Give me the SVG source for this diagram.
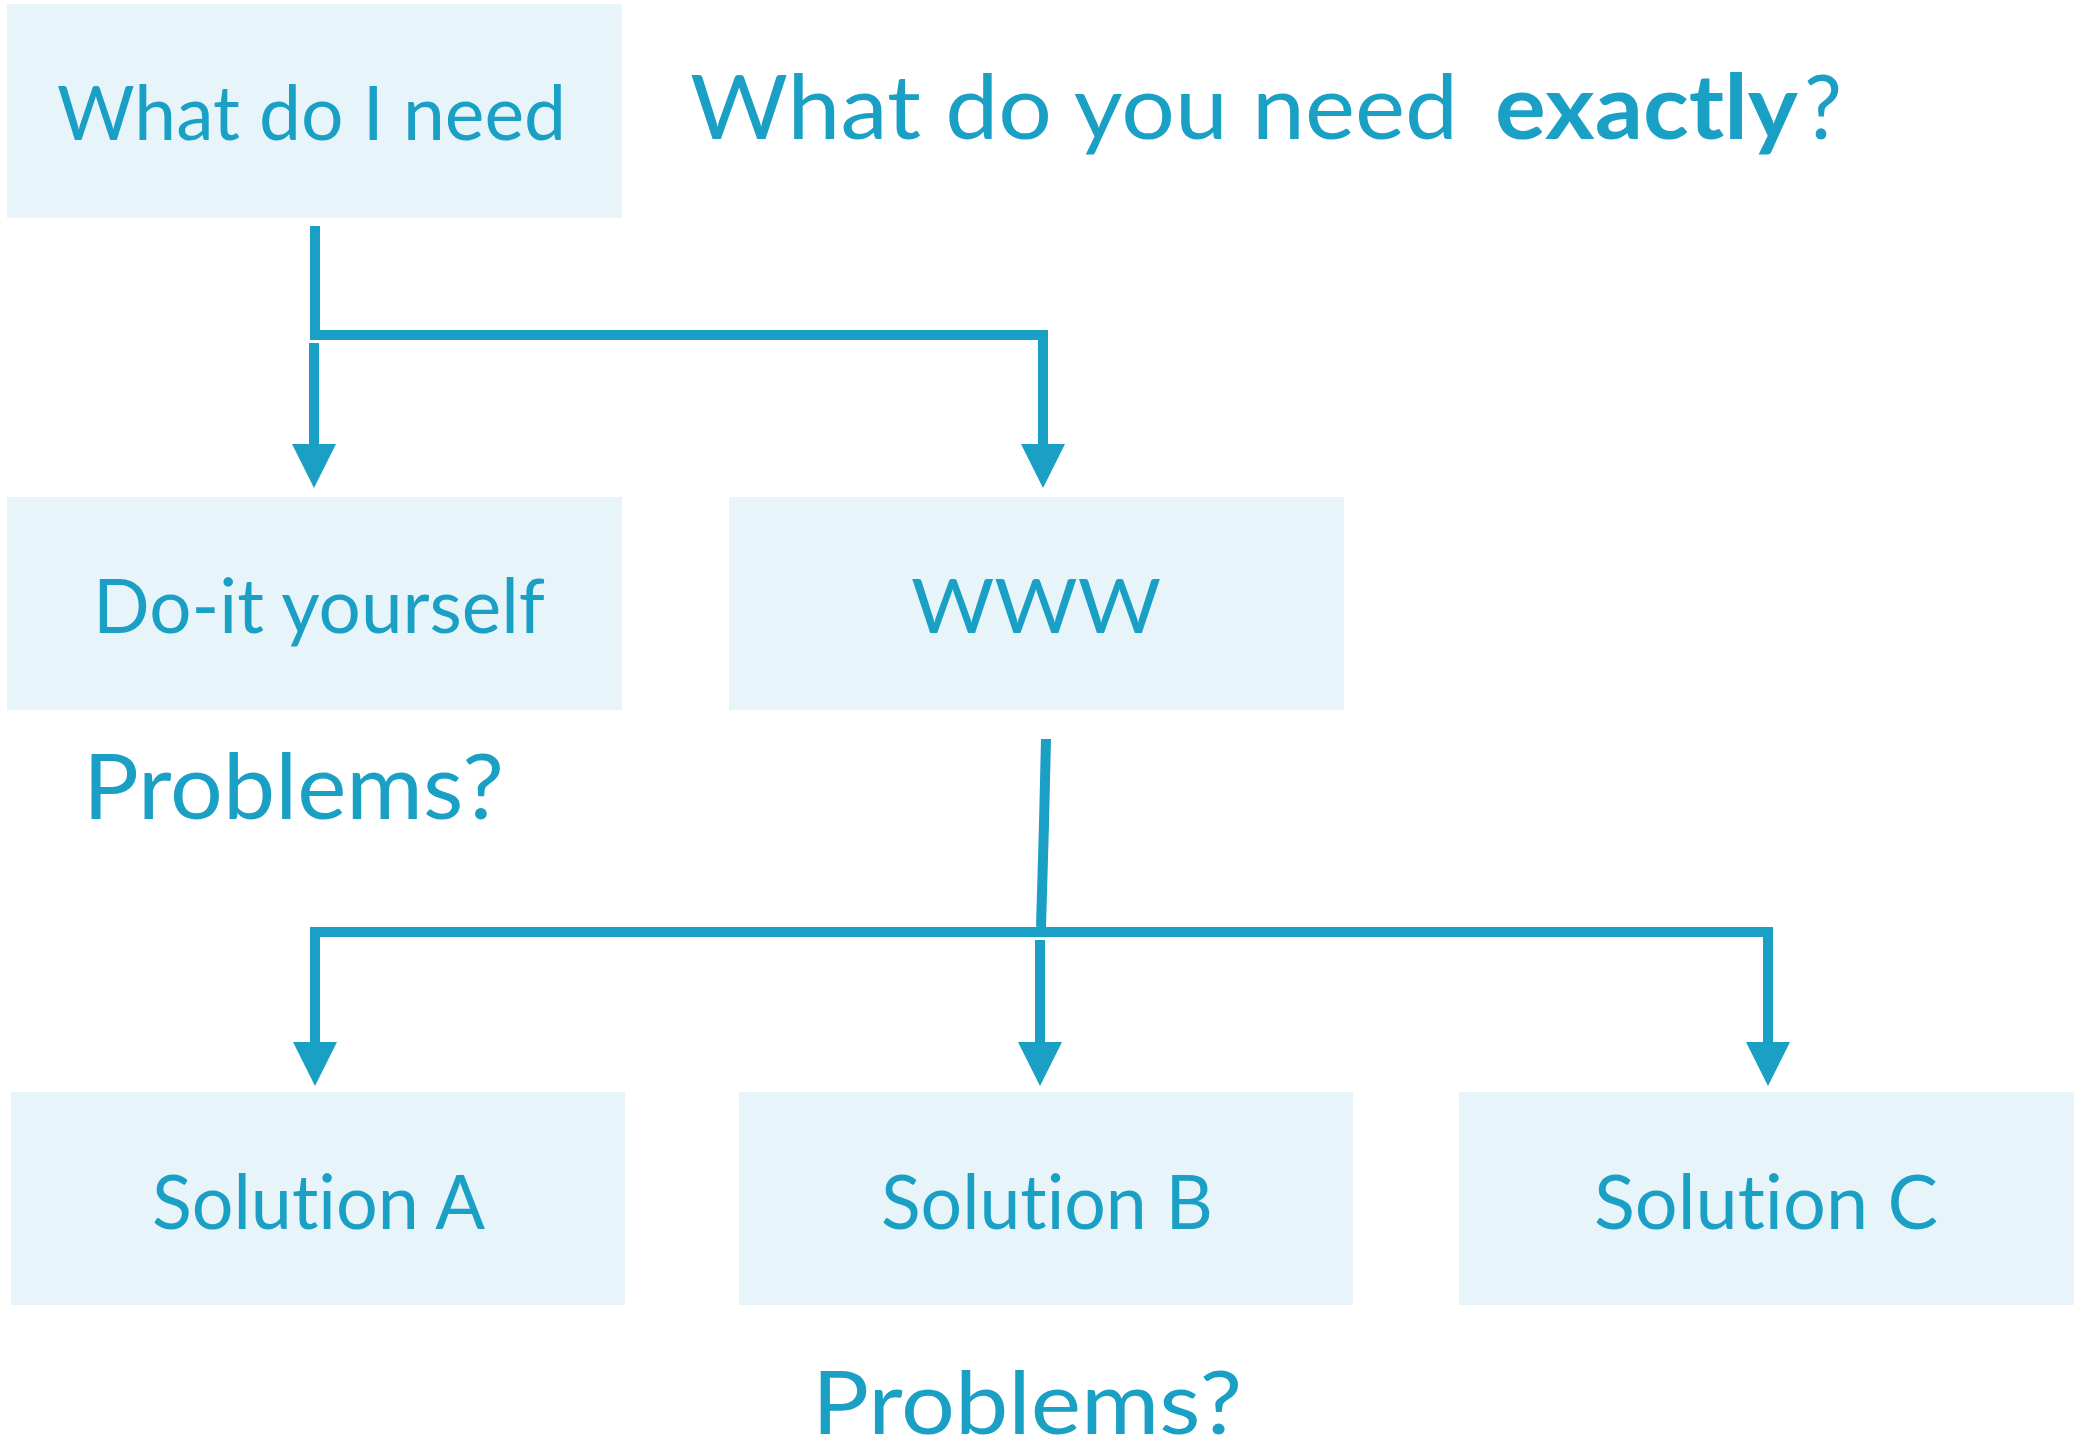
<svg xmlns="http://www.w3.org/2000/svg" width="2078" height="1449" viewBox="0 0 2078 1449">
  <style>
    .box { fill: #e7f4fa; }
    .lbl { font-family: Lato, "Open Sans", "Liberation Sans", sans-serif; font-weight: 400; fill: #1a9fc5; font-variant-ligatures: none; }
    .strong { font-weight: bold; }
    .wire { fill: none; stroke: #1a9fc5; stroke-width: 10; }
  </style>
  <defs>
    <marker id="arrow" markerUnits="userSpaceOnUse" viewBox="0 -22 44 44" refX="0" refY="0" markerWidth="44" markerHeight="44" orient="auto">
      <path d="M0,-22 L44,0 L0,22 Z" fill="#1a9fc5"/>
    </marker>
  </defs>

  <rect width="2078" height="1449" fill="#ffffff"/>

  <!-- connectors -->
  <g id="connectors">
    <path class="wire" d="M315,226 V335 H1043 V444" marker-end="url(#arrow)"/>
    <path class="wire" d="M314,343 V444" marker-end="url(#arrow)"/>
    <path class="wire" d="M1046,739 L1044,824 L1041,927"/>
    <path class="wire" d="M310,932 H1773"/>
    <path class="wire" d="M315,932 V1042" marker-end="url(#arrow)"/>
    <path class="wire" d="M1040,940 V1042" marker-end="url(#arrow)"/>
    <path class="wire" d="M1768,932 V1042" marker-end="url(#arrow)"/>
  </g>

  <!-- nodes -->
  <g id="need">
    <rect class="box" x="7" y="4" width="615" height="214"/>
    <text class="lbl" x="57" y="140" font-size="75" textLength="509" lengthAdjust="spacingAndGlyphs">What do I need</text>
  </g>
  <g id="diy">
    <rect class="box" x="7" y="497" width="615" height="213"/>
    <text class="lbl" x="93" y="633" font-size="75" textLength="452" lengthAdjust="spacingAndGlyphs">Do-it yourself</text>
  </g>
  <g id="www">
    <rect class="box" x="729" y="497" width="615" height="213"/>
    <text class="lbl" x="911" y="633" font-size="75" textLength="250" lengthAdjust="spacingAndGlyphs">WWW</text>
  </g>
  <g id="solution-a">
    <rect class="box" x="11" y="1092" width="614" height="213"/>
    <text class="lbl" x="152" y="1229" font-size="76" textLength="333" lengthAdjust="spacingAndGlyphs">Solution A</text>
  </g>
  <g id="solution-b">
    <rect class="box" x="739" y="1092" width="614" height="213"/>
    <text class="lbl" x="881" y="1229" font-size="76" textLength="332" lengthAdjust="spacingAndGlyphs">Solution B</text>
  </g>
  <g id="solution-c">
    <rect class="box" x="1459" y="1092" width="615" height="213"/>
    <text class="lbl" x="1594" y="1229" font-size="76" textLength="344" lengthAdjust="spacingAndGlyphs">Solution C</text>
  </g>

  <!-- free labels -->
  <g id="question">
    <text class="lbl" x="690" y="139" font-size="89" textLength="768" lengthAdjust="spacingAndGlyphs">What do you need</text>
    <text class="lbl strong" x="1495" y="139" font-size="89" textLength="303" lengthAdjust="spacingAndGlyphs">exactly</text>
    <text class="lbl" x="1804" y="139" font-size="89" textLength="38" lengthAdjust="spacingAndGlyphs">?</text>
  </g>
  <g id="problems-diy">
    <text class="lbl" x="83" y="819" font-size="92" textLength="421" lengthAdjust="spacingAndGlyphs">Problems?</text>
  </g>
  <g id="problems-solutions">
    <text class="lbl" x="812" y="1434" font-size="88" textLength="430" lengthAdjust="spacingAndGlyphs">Problems?</text>
  </g>
</svg>
